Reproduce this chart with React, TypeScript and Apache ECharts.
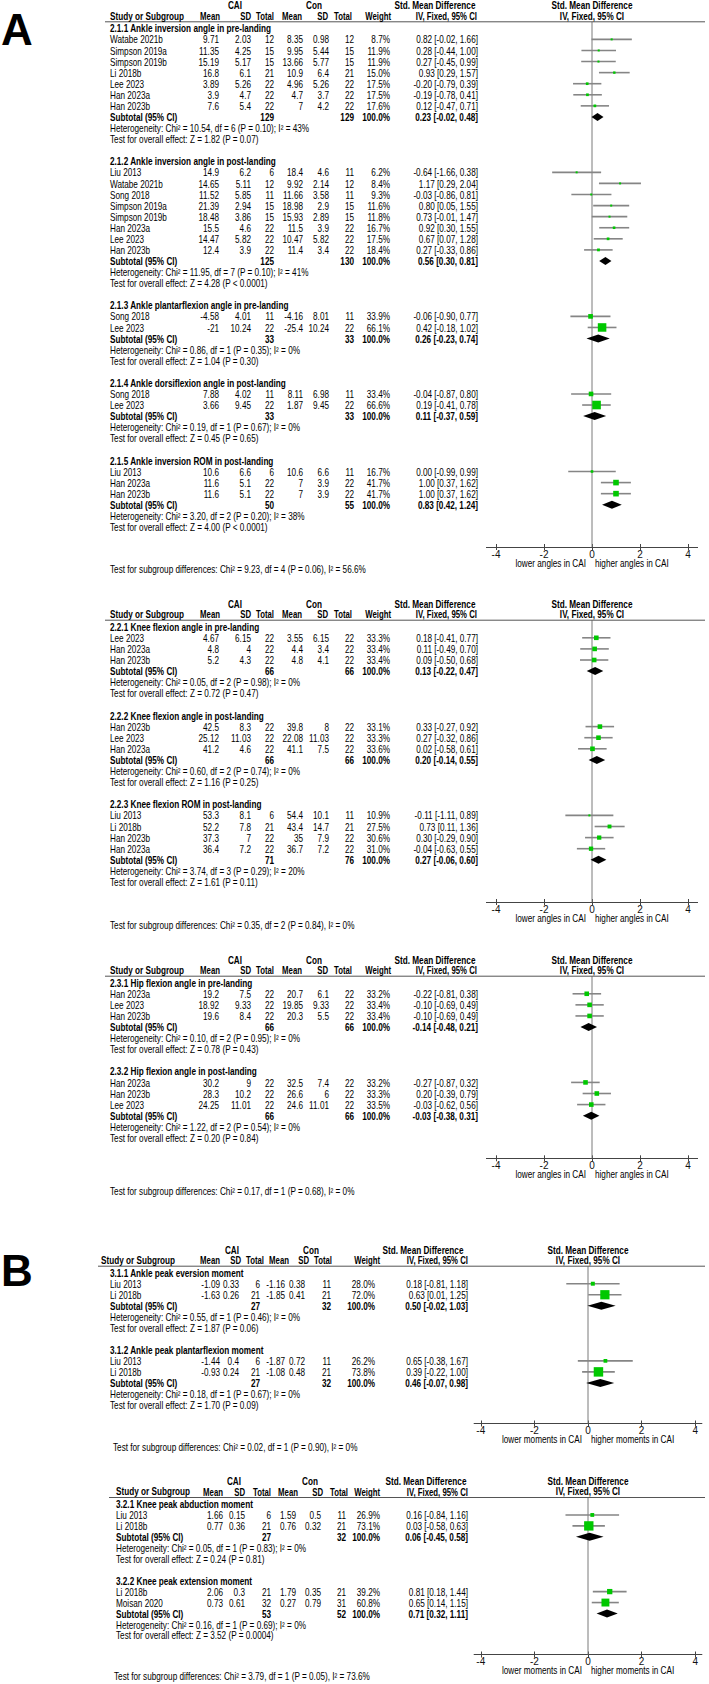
import React, { useEffect, useRef } from "react";
import * as echarts from "echarts";

// [name, CAI mean, CAI SD, CAI N, Con mean, Con SD, Con N, weight %, SMD, lower, upper]
type Study = [string, number, number, number, number, number, number, number, number, number, number];

// ---------- A: ankle ----------
const s211Title = "2.1.1 Ankle inversion angle in pre-landing";
const s211Studies: Study[] = [
  ["Watabe 2021b", 9.71, 2.03, 12, 8.35, 0.98, 12, 8.7, 0.82, -0.02, 1.66],
  ["Simpson 2019a", 11.35, 4.25, 15, 9.95, 5.44, 15, 11.9, 0.28, -0.44, 1.0],
  ["Simpson 2019b", 15.19, 5.17, 15, 13.66, 5.77, 15, 11.9, 0.27, -0.45, 0.99],
  ["Li 2018b", 16.8, 6.1, 21, 10.9, 6.4, 21, 15.0, 0.93, 0.29, 1.57],
  ["Lee 2023", 3.89, 5.26, 22, 4.96, 5.26, 22, 17.5, -0.2, -0.79, 0.39],
  ["Han 2023a", 3.9, 4.7, 22, 4.7, 3.7, 22, 17.5, -0.19, -0.78, 0.41],
  ["Han 2023b", 7.6, 5.4, 22, 7, 4.2, 22, 17.6, 0.12, -0.47, 0.71],
];
const s211Total = [129, 129, 0.23, -0.02, 0.48];
const s211Het = "Heterogeneity: Chi² = 10.54, df = 6 (P = 0.10); I² = 43%";
const s211Z = "Test for overall effect: Z = 1.82 (P = 0.07)";

const s212Title = "2.1.2 Ankle inversion angle in post-landing";
const s212Studies: Study[] = [
  ["Liu 2013", 14.9, 6.2, 6, 18.4, 4.6, 11, 6.2, -0.64, -1.66, 0.38],
  ["Watabe 2021b", 14.65, 5.11, 12, 9.92, 2.14, 12, 8.4, 1.17, 0.29, 2.04],
  ["Song 2018", 11.52, 5.85, 11, 11.66, 3.58, 11, 9.3, -0.03, -0.86, 0.81],
  ["Simpson 2019a", 21.39, 2.94, 15, 18.98, 2.9, 15, 11.6, 0.8, 0.05, 1.55],
  ["Simpson 2019b", 18.48, 3.86, 15, 15.93, 2.89, 15, 11.8, 0.73, -0.01, 1.47],
  ["Han 2023a", 15.5, 4.6, 22, 11.5, 3.9, 22, 16.7, 0.92, 0.3, 1.55],
  ["Lee 2023", 14.47, 5.82, 22, 10.47, 5.82, 22, 17.5, 0.67, 0.07, 1.28],
  ["Han 2023b", 12.4, 3.9, 22, 11.4, 3.4, 22, 18.4, 0.27, -0.33, 0.86],
];
const s212Total = [125, 130, 0.56, 0.3, 0.81];
const s212Het = "Heterogeneity: Chi² = 11.95, df = 7 (P = 0.10); I² = 41%";
const s212Z = "Test for overall effect: Z = 4.28 (P < 0.0001)";

const s213Title = "2.1.3 Ankle plantarflexion angle in pre-landing";
const s213Studies: Study[] = [
  ["Song 2018", -4.58, 4.01, 11, -4.16, 8.01, 11, 33.9, -0.06, -0.9, 0.77],
  ["Lee 2023", -21, 10.24, 22, -25.4, 10.24, 22, 66.1, 0.42, -0.18, 1.02],
];
const s213Total = [33, 33, 0.26, -0.23, 0.74];
const s213Het = "Heterogeneity: Chi² = 0.86, df = 1 (P = 0.35); I² = 0%";
const s213Z = "Test for overall effect: Z = 1.04 (P = 0.30)";

const s214Title = "2.1.4 Ankle dorsiflexion angle in post-landing";
const s214Studies: Study[] = [
  ["Song 2018", 7.88, 4.02, 11, 8.11, 6.98, 11, 33.4, -0.04, -0.87, 0.8],
  ["Lee 2023", 3.66, 9.45, 22, 1.87, 9.45, 22, 66.6, 0.19, -0.41, 0.78],
];
const s214Total = [33, 33, 0.11, -0.37, 0.59];
const s214Het = "Heterogeneity: Chi² = 0.19, df = 1 (P = 0.67); I² = 0%";
const s214Z = "Test for overall effect: Z = 0.45 (P = 0.65)";

const s215Title = "2.1.5 Ankle inversion ROM in post-landing";
const s215Studies: Study[] = [
  ["Liu 2013", 10.6, 6.6, 6, 10.6, 6.6, 11, 16.7, 0.0, -0.99, 0.99],
  ["Han 2023a", 11.6, 5.1, 22, 7, 3.9, 22, 41.7, 1.0, 0.37, 1.62],
  ["Han 2023b", 11.6, 5.1, 22, 7, 3.9, 22, 41.7, 1.0, 0.37, 1.62],
];
const s215Total = [50, 55, 0.83, 0.42, 1.24];
const s215Het = "Heterogeneity: Chi² = 3.20, df = 2 (P = 0.20); I² = 38%";
const s215Z = "Test for overall effect: Z = 4.00 (P < 0.0001)";
const diffA1 = "Test for subgroup differences: Chi² = 9.23, df = 4 (P = 0.06), I² = 56.6%";

// ---------- A: knee ----------
const s221Title = "2.2.1 Knee flexion angle in pre-landing";
const s221Studies: Study[] = [
  ["Lee 2023", 4.67, 6.15, 22, 3.55, 6.15, 22, 33.3, 0.18, -0.41, 0.77],
  ["Han 2023a", 4.8, 4, 22, 4.4, 3.4, 22, 33.4, 0.11, -0.49, 0.7],
  ["Han 2023b", 5.2, 4.3, 22, 4.8, 4.1, 22, 33.4, 0.09, -0.5, 0.68],
];
const s221Total = [66, 66, 0.13, -0.22, 0.47];
const s221Het = "Heterogeneity: Chi² = 0.05, df = 2 (P = 0.98); I² = 0%";
const s221Z = "Test for overall effect: Z = 0.72 (P = 0.47)";

const s222Title = "2.2.2 Knee flexion angle in post-landing";
const s222Studies: Study[] = [
  ["Han 2023b", 42.5, 8.3, 22, 39.8, 8, 22, 33.1, 0.33, -0.27, 0.92],
  ["Lee 2023", 25.12, 11.03, 22, 22.08, 11.03, 22, 33.3, 0.27, -0.32, 0.86],
  ["Han 2023a", 41.2, 4.6, 22, 41.1, 7.5, 22, 33.6, 0.02, -0.58, 0.61],
];
const s222Total = [66, 66, 0.2, -0.14, 0.55];
const s222Het = "Heterogeneity: Chi² = 0.60, df = 2 (P = 0.74); I² = 0%";
const s222Z = "Test for overall effect: Z = 1.16 (P = 0.25)";

const s223Title = "2.2.3 Knee flexion ROM in post-landing";
const s223Studies: Study[] = [
  ["Liu 2013", 53.3, 8.1, 6, 54.4, 10.1, 11, 10.9, -0.11, -1.11, 0.89],
  ["Li 2018b", 52.2, 7.8, 21, 43.4, 14.7, 21, 27.5, 0.73, 0.11, 1.36],
  ["Han 2023b", 37.3, 7, 22, 35, 7.9, 22, 30.6, 0.3, -0.29, 0.9],
  ["Han 2023a", 36.4, 7.2, 22, 36.7, 7.2, 22, 31.0, -0.04, -0.63, 0.55],
];
const s223Total = [71, 76, 0.27, -0.06, 0.6];
const s223Het = "Heterogeneity: Chi² = 3.74, df = 3 (P = 0.29); I² = 20%";
const s223Z = "Test for overall effect: Z = 1.61 (P = 0.11)";
const diffA2 = "Test for subgroup differences: Chi² = 0.35, df = 2 (P = 0.84), I² = 0%";

// ---------- A: hip ----------
const s231Title = "2.3.1 Hip flexion angle in pre-landing";
const s231Studies: Study[] = [
  ["Han 2023a", 19.2, 7.5, 22, 20.7, 6.1, 22, 33.2, -0.22, -0.81, 0.38],
  ["Lee 2023", 18.92, 9.33, 22, 19.85, 9.33, 22, 33.4, -0.1, -0.69, 0.49],
  ["Han 2023b", 19.6, 8.4, 22, 20.3, 5.5, 22, 33.4, -0.1, -0.69, 0.49],
];
const s231Total = [66, 66, -0.14, -0.48, 0.21];
const s231Het = "Heterogeneity: Chi² = 0.10, df = 2 (P = 0.95); I² = 0%";
const s231Z = "Test for overall effect: Z = 0.78 (P = 0.43)";

const s232Title = "2.3.2 Hip flexion angle in post-landing";
const s232Studies: Study[] = [
  ["Han 2023a", 30.2, 9, 22, 32.5, 7.4, 22, 33.2, -0.27, -0.87, 0.32],
  ["Han 2023b", 28.3, 10.2, 22, 26.6, 6, 22, 33.3, 0.2, -0.39, 0.79],
  ["Lee 2023", 24.25, 11.01, 22, 24.6, 11.01, 22, 33.5, -0.03, -0.62, 0.56],
];
const s232Total = [66, 66, -0.03, -0.38, 0.31];
const s232Het = "Heterogeneity: Chi² = 1.22, df = 2 (P = 0.54); I² = 0%";
const s232Z = "Test for overall effect: Z = 0.20 (P = 0.84)";
const diffA3 = "Test for subgroup differences: Chi² = 0.17, df = 1 (P = 0.68), I² = 0%";

// ---------- B: ankle moments ----------
const s311Title = "3.1.1 Ankle peak eversion moment";
const s311Studies: Study[] = [
  ["Liu 2013", -1.09, 0.33, 6, -1.16, 0.38, 11, 28.0, 0.18, -0.81, 1.18],
  ["Li 2018b", -1.63, 0.26, 21, -1.85, 0.41, 21, 72.0, 0.63, 0.01, 1.25],
];
const s311Total = [27, 32, 0.5, -0.02, 1.03];
const s311Het = "Heterogeneity: Chi² = 0.55, df = 1 (P = 0.46); I² = 0%";
const s311Z = "Test for overall effect: Z = 1.87 (P = 0.06)";

const s312Title = "3.1.2 Ankle peak plantarflexion moment";
const s312Studies: Study[] = [
  ["Liu 2013", -1.44, 0.4, 6, -1.87, 0.72, 11, 26.2, 0.65, -0.38, 1.67],
  ["Li 2018b", -0.93, 0.24, 21, -1.08, 0.48, 21, 73.8, 0.39, -0.22, 1.0],
];
const s312Total = [27, 32, 0.46, -0.07, 0.98];
const s312Het = "Heterogeneity: Chi² = 0.18, df = 1 (P = 0.67); I² = 0%";
const s312Z = "Test for overall effect: Z = 1.70 (P = 0.09)";
const diffB1 = "Test for subgroup differences: Chi² = 0.02, df = 1 (P = 0.90), I² = 0%";

// ---------- B: knee moments ----------
const s321Title = "3.2.1 Knee peak abduction moment";
const s321Studies: Study[] = [
  ["Liu 2013", 1.66, 0.15, 6, 1.59, 0.5, 11, 26.9, 0.16, -0.84, 1.16],
  ["Li 2018b", 0.77, 0.36, 21, 0.76, 0.32, 21, 73.1, 0.03, -0.58, 0.63],
];
const s321Total = [27, 32, 0.06, -0.45, 0.58];
const s321Het = "Heterogeneity: Chi² = 0.05, df = 1 (P = 0.83); I² = 0%";
const s321Z = "Test for overall effect: Z = 0.24 (P = 0.81)";

const s322Title = "3.2.2 Knee peak extension moment";
const s322Studies: Study[] = [
  ["Li 2018b", 2.06, 0.3, 21, 1.79, 0.35, 21, 39.2, 0.81, 0.18, 1.44],
  ["Moisan 2020", 0.73, 0.61, 32, 0.27, 0.79, 31, 60.8, 0.65, 0.14, 1.15],
];
const s322Total = [53, 52, 0.71, 0.32, 1.11];
const s322Het = "Heterogeneity: Chi² = 0.16, df = 1 (P = 0.69); I² = 0%";
const s322Z = "Test for overall effect: Z = 3.52 (P = 0.0004)";
const diffB2 = "Test for subgroup differences: Chi² = 3.79, df = 1 (P = 0.05), I² = 73.6%";

// axis + header texts
const tickValues = [-4, -2, 0, 2, 4];
const anglesLabels = ["lower angles in CAI", "higher angles in CAI"];
const momentsLabels = ["lower moments in CAI", "higher moments in CAI"];
const header1 = ["CAI", "Con", "Std. Mean Difference"];
const header2 = ["Mean", "SD", "Total", "Mean", "SD", "Total", "Weight", "IV, Fixed, 95% CI"];

type Sub = [string, Study[], number[], string, string];

const FONT = '"Liberation Sans", Arial, Helvetica, sans-serif';
const NARROW = 0.82;

function T(x: number, y: number, text: string, align: string, bold = false, size = 10, scale = NARROW) {
  return {
    type: "text",
    x,
    y,
    scaleX: scale,
    silent: true,
    z: 10,
    style: {
      text,
      fill: "#000",
      font: `${bold ? "bold " : ""}${size}px ${FONT}`,
      textAlign: align,
      textVerticalAlign: "middle",
      align,
      verticalAlign: "middle",
    },
  };
}

type Layout = {
  r0: number; pitch: number; axisY: number; diffY: number; diffX: number;
  nameX: number; headX: number; lineX: number;
  cols: number[]; hcols: number[]; cai: number; con: number; smd: number;
  zero: number; upp: number; ext: number;
};

const colsA = [219, 251, 274, 303, 329, 354, 390, 478];
const hcolsA = [220, 251, 274, 302, 328, 352, 391, 477];

const panels: { subs: Sub[]; diff: string; dir: string[]; L: Layout }[] = [
  {
    subs: [
      [s211Title, s211Studies, s211Total, s211Het, s211Z],
      [s212Title, s212Studies, s212Total, s212Het, s212Z],
      [s213Title, s213Studies, s213Total, s213Het, s213Z],
      [s214Title, s214Studies, s214Total, s214Het, s214Z],
      [s215Title, s215Studies, s215Total, s215Het, s215Z],
    ],
    diff: diffA1, dir: anglesLabels,
    L: { r0: 28.3, pitch: 11.08, axisY: 547, diffY: 570, diffX: 110, nameX: 110, headX: 110, lineX: 105,
      cols: colsA, hcols: hcolsA, cai: 235, con: 314, smd: 435, zero: 592, upp: 24, ext: 4.4 },
  },
  {
    subs: [
      [s221Title, s221Studies, s221Total, s221Het, s221Z],
      [s222Title, s222Studies, s222Total, s222Het, s222Z],
      [s223Title, s223Studies, s223Total, s223Het, s223Z],
    ],
    diff: diffA2, dir: anglesLabels,
    L: { r0: 626.7, pitch: 11.1, axisY: 902, diffY: 926, diffX: 110, nameX: 110, headX: 110, lineX: 105,
      cols: colsA, hcols: hcolsA, cai: 235, con: 314, smd: 435, zero: 592, upp: 24, ext: 4.4 },
  },
  {
    subs: [
      [s231Title, s231Studies, s231Total, s231Het, s231Z],
      [s232Title, s232Studies, s232Total, s232Het, s232Z],
    ],
    diff: diffA3, dir: anglesLabels,
    L: { r0: 982.7, pitch: 11.08, axisY: 1158.3, diffY: 1191.7, diffX: 110, nameX: 110, headX: 110, lineX: 105,
      cols: colsA, hcols: hcolsA, cai: 235, con: 314, smd: 435, zero: 592, upp: 24, ext: 4.4 },
  },
  {
    subs: [
      [s311Title, s311Studies, s311Total, s311Het, s311Z],
      [s312Title, s312Studies, s312Total, s312Het, s312Z],
    ],
    diff: diffB1, dir: momentsLabels,
    L: { r0: 1272.7, pitch: 11.02, axisY: 1423.5, diffY: 1447.3, diffX: 113, nameX: 110, headX: 101, lineX: 98,
      cols: [220, 239, 260, 285, 305, 331, 375, 468], hcols: [220, 241, 264, 289, 309, 332, 380, 468],
      cai: 232, con: 311, smd: 423, zero: 588, upp: 26.8, ext: 4.25 },
  },
  {
    subs: [
      [s321Title, s321Studies, s321Total, s321Het, s321Z],
      [s322Title, s322Studies, s322Total, s322Het, s322Z],
    ],
    diff: diffB2, dir: momentsLabels,
    L: { r0: 1504, pitch: 10.95, axisY: 1654.5, diffY: 1676.7, diffX: 114, nameX: 116, headX: 116, lineX: 109,
      cols: [223, 245, 271, 296, 321, 346, 380, 468], hcols: [223, 245, 271, 298, 323, 348, 380, 468],
      cai: 234, con: 310, smd: 426, zero: 588, upp: 26.8, ext: 4.25 },
  },
];

const ci = (e: number, lo: number, hi: number) => `${e.toFixed(2)} [${lo.toFixed(2)}, ${hi.toFixed(2)}]`;

function buildOption() {
  const grid: any[] = [];
  const xAxis: any[] = [];
  const yAxis: any[] = [];
  const series: any[] = [];
  const graphic: any[] = [];

  graphic.push(T(1, 29, "A", "left", true, 44, 1));
  graphic.push(T(1, 1270, "B", "left", true, 44, 1));

  panels.forEach((p, i) => {
    const L = p.L;
    const lineY = L.r0 - 6.5;
    const rowY = (r: number) => L.r0 + r * L.pitch;
    const tY = (r: number) => rowY(r) + 0.8;

    // headers
    const h1 = L.r0 - 2 * L.pitch;
    const h2 = L.r0 - 11.8;
    graphic.push(T(L.cai, h1, header1[0], "center", true));
    graphic.push(T(L.con, h1, header1[1], "center", true));
    graphic.push(T(L.smd, h1, header1[2], "center", true));
    graphic.push(T(L.zero, h1, header1[2], "center", true));
    graphic.push(T(L.headX, h2, "Study or Subgroup", "left", true));
    header2.forEach((h, k) => graphic.push(T(L.hcols[k], h2, h, "right", true, 10, 0.78)));
    graphic.push(T(L.zero, h2, header2[7], "center", true));
    graphic.push({
      type: "line", silent: true, z: 5,
      shape: { x1: L.lineX, y1: lineY, x2: 705, y2: lineY },
      style: { stroke: "#555", lineWidth: 1 },
    });

    const studyData: any[] = [];
    const diamondData: any[] = [];
    let r = 0;
    p.subs.forEach((sub, si) => {
      const [title, studies, total, het, z] = sub;
      graphic.push(T(L.nameX, tY(r), title, "left", true));
      r++;
      studies.forEach((s) => {
        const y = tY(r);
        graphic.push(T(L.nameX, y, s[0], "left"));
        for (let k = 0; k < 6; k++) graphic.push(T(L.cols[k], y, String(s[k + 1]), "right"));
        graphic.push(T(L.cols[6], y, s[7].toFixed(1) + "%", "right"));
        graphic.push(T(L.cols[7], y, ci(s[8], s[9], s[10]), "right"));
        studyData.push([s[8], r, s[9], s[10], s[7]]);
        r++;
      });
      const y = tY(r);
      graphic.push(T(L.nameX, y, "Subtotal (95% CI)", "left", true));
      graphic.push(T(L.cols[2], y, String(total[0]), "right", true));
      graphic.push(T(L.cols[5], y, String(total[1]), "right", true));
      graphic.push(T(L.cols[6], y, "100.0%", "right", true));
      graphic.push(T(L.cols[7], y, ci(total[2], total[3], total[4]), "right", true));
      diamondData.push([total[2], r, total[3], total[4]]);
      r++;
      graphic.push(T(L.nameX, tY(r), het, "left"));
      r++;
      graphic.push(T(L.nameX, tY(r), z, "left"));
      r++;
      if (si < p.subs.length - 1) r++;
    });

    graphic.push(T(L.diffX, L.diffY, p.diff, "left"));
    graphic.push(T(L.zero - 6, L.axisY + 16.5, p.dir[0], "right"));
    graphic.push(T(L.zero + 3, L.axisY + 16.5, p.dir[1], "left"));

    const yMin = (lineY - L.r0) / L.pitch;
    const yMax = (L.axisY - L.r0) / L.pitch;
    grid.push({
      left: L.zero - L.ext * L.upp,
      width: 2 * L.ext * L.upp,
      top: lineY,
      height: L.axisY - lineY,
    });
    xAxis.push({
      gridIndex: i, type: "value", min: -L.ext, max: L.ext, position: "bottom",
      axisLine: { show: true, onZero: false, lineStyle: { color: "#444", width: 1 } },
      axisTick: { show: true, customValues: tickValues, length: 3, lineStyle: { color: "#444" } },
      axisLabel: { show: true, customValues: tickValues, fontSize: 10, margin: 2, color: "#111", fontFamily: FONT },
      splitLine: { show: false },
    });
    xAxis.push({
      gridIndex: i, type: "value", min: -L.ext, max: L.ext, position: "bottom",
      axisLine: { show: false, onZero: false },
      axisTick: { show: true, inside: true, customValues: tickValues, length: 3, lineStyle: { color: "#444" } },
      axisLabel: { show: false },
      splitLine: { show: false },
    });
    yAxis.push({ gridIndex: i, type: "value", inverse: true, min: yMin, max: yMax, show: false });

    series.push({
      type: "line", xAxisIndex: 2 * i, yAxisIndex: i, silent: true, z: 1,
      data: [[0, yMin], [0, yMax]], symbol: "none",
      lineStyle: { color: "#7a7a7a", width: 1 },
    });
    series.push({
      type: "custom", xAxisIndex: 2 * i, yAxisIndex: i, silent: true, clip: false, z: 3,
      data: studyData,
      encode: { x: [0, 2, 3], y: 1 },
      renderItem: (_params: any, api: any) => {
        const e = api.value(0), row = api.value(1), lo = api.value(2), hi = api.value(3), w = api.value(4);
        const pLo = api.coord([lo, row]);
        const pHi = api.coord([hi, row]);
        const pE = api.coord([e, row]);
        const s = Math.max(2, 0.12 * w + 0.6);
        return {
          type: "group",
          children: [
            { type: "line", shape: { x1: pLo[0], y1: pLo[1], x2: pHi[0], y2: pHi[1] }, style: { stroke: "#858585", lineWidth: 1.6 } },
            { type: "rect", shape: { x: pE[0] - s / 2, y: pE[1] - s / 2, width: s, height: s }, style: { fill: "#00c800" } },
          ],
        };
      },
    });
    series.push({
      type: "custom", xAxisIndex: 2 * i, yAxisIndex: i, silent: true, clip: false, z: 3,
      data: diamondData,
      encode: { x: [0, 2, 3], y: 1 },
      renderItem: (_params: any, api: any) => {
        const e = api.value(0), row = api.value(1), lo = api.value(2), hi = api.value(3);
        const pLo = api.coord([lo, row]);
        const pHi = api.coord([hi, row]);
        const pE = api.coord([e, row]);
        const h = 4;
        return {
          type: "polygon",
          shape: { points: [[pLo[0], pE[1]], [pE[0], pE[1] - h], [pHi[0], pE[1]], [pE[0], pE[1] + h]] },
          style: { fill: "#000" },
        };
      },
    });
  });

  return {
    animation: false,
    backgroundColor: "#fff",
    grid,
    xAxis,
    yAxis,
    series,
    graphic,
  };
}

export default function App() {
  const ref = useRef<HTMLDivElement>(null);
  useEffect(() => {
    document.body.style.margin = "0";
    if (!ref.current) return;
    const chart = echarts.init(ref.current, undefined, { renderer: "svg" });
    chart.setOption(buildOption() as any);
    return () => chart.dispose();
  }, []);
  return <div ref={ref} style={{ width: 709, height: 1684 }} />;
}
